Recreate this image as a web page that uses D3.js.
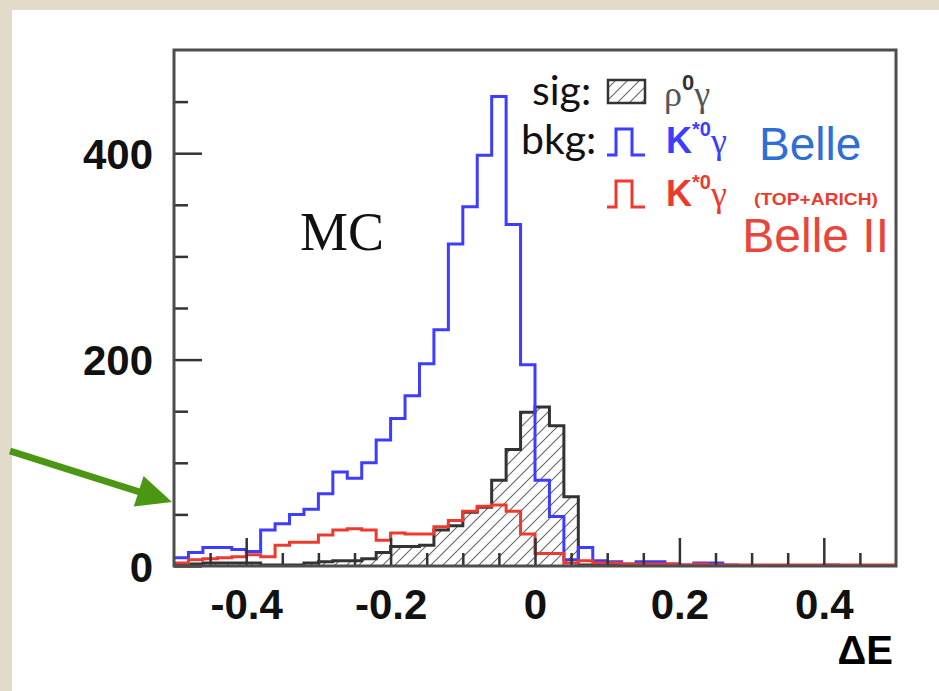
<!DOCTYPE html>
<html lang="en">
<head>
<meta charset="UTF-8">
<title>Delta E - MC</title>
<script src="https://d3js.org/d3.v7.min.js"></script>
<style>
    body {
        margin: 0;
        background: #fff;
    }
    svg {
        display: block;
    }
    .tick text {
        font-family: "Liberation Sans", Arial, sans-serif;
        font-weight: bold;
        font-size: 42px;
        fill: #111;
    }
    .tick line {
        stroke: #333;
        stroke-width: 2.5px;
    }
</style>
</head>
<body>
<svg id="chart" width="939" height="691"></svg>
<script>
    // 50 bins of 0.02 from -0.5 to 0.5
    const binEdges = d3.range(51).map(i => +(-0.5 + i * 0.02).toFixed(2));

    // signal: rho0 gamma (hatched)
    const sigRhoGamma = [1, 2, 3, 3, 3, 3, 1, 1, 1, 3,
                         4, 5, 5, 7, 13, 19, 19, 20, 35, 39,
                         52, 57, 83, 113, 149, 154, 136, 67, 1, 1,
                         1, 1, 1, 0, 0, 0, 0, 0, 0, 0,
                         0, 0, 0, 0, 0, 0, 0, 0, 0, 0];

    // background K*0 gamma, Belle
    const bkgBelle = [8, 13, 18, 18, 16, 14, 35, 41, 50, 55,
                      70, 91, 85, 100, 122, 143, 165, 196, 229, 312,
                      348, 398, 455, 331, 195, 83, 48, 6, 18, 5,
                      4, 2, 4, 4, 2, 1, 3, 3, 1, 0,
                      0, 0, 0, 0, 0, 1, 0, 0, 0, 0];

    // background K*0 gamma, Belle II (TOP+ARICH)
    const bkgBelle2 = [3, 6, 7, 8, 9, 11, 9, 20, 23, 23,
                       30, 35, 36, 35, 25, 32, 31, 31, 38, 44,
                       53, 58, 59, 53, 31, 12, 12, 3, 5, 3,
                       3, 2, 2, 2, 2, 1, 2, 1, 1, 1,
                       1, 1, 1, 1, 1, 1, 1, 1, 1, 1];

    const yMajorTicks = [0, 200, 400];
    const yMinorTicks = [50, 100, 150, 250, 300, 350, 450];
    const xMajorTicks = [-0.4, -0.2, 0, 0.2, 0.4];
    const xMinorTicks = [-0.45, -0.35, -0.3, -0.25, -0.15, -0.1, -0.05,
                         0.05, 0.1, 0.15, 0.25, 0.3, 0.35, 0.45];
    const xTickLabels = ["-0.4", "-0.2", "0", "0.2", "0.4"];

    const svg = d3.select("#chart");

    // slide background: beige border top and left
    svg.append("rect").attr("width", 939).attr("height", 691).attr("fill", "#e2dbca");
    svg.append("rect").attr("x", 12).attr("y", 10).attr("width", 927).attr("height", 681).attr("fill", "#fff");

    const plot = { left: 174, right: 896, top: 50, bottom: 566 };

    const x = d3.scaleLinear().domain([-0.5, 0.5]).range([plot.left, plot.right]);
    const y = d3.scaleLinear().domain([0, 500]).range([plot.bottom, plot.top]);

    // hatch pattern for the signal
    const defs = svg.append("defs");
    const pat = defs.append("pattern")
        .attr("id", "hatch")
        .attr("patternUnits", "userSpaceOnUse")
        .attr("width", 12)
        .attr("height", 12);
    pat.append("path")
        .attr("d", "M0,12 L12,0 M-3,3 L3,-3 M9,15 L15,9")
        .attr("stroke", "#666")
        .attr("stroke-width", 1.1);

    defs.append("clipPath").attr("id", "clip")
        .append("rect")
        .attr("x", plot.left).attr("y", plot.top)
        .attr("width", plot.right - plot.left).attr("height", plot.bottom - plot.top);

    function binPoints(values) {
        const pts = values.map((v, i) => [binEdges[i], v]);
        pts.push([binEdges[values.length], values[values.length - 1]]);
        return pts;
    }

    const stepLine = d3.line()
        .x(d => x(d[0]))
        .y(d => y(d[1]))
        .curve(d3.curveStepAfter);

    const stepArea = d3.area()
        .x(d => x(d[0]))
        .y0(y(0))
        .y1(d => y(d[1]))
        .curve(d3.curveStepAfter);

    const hist = svg.append("g").attr("clip-path", "url(#clip)");

    hist.append("path")
        .attr("d", stepArea(binPoints(sigRhoGamma)))
        .attr("fill", "url(#hatch)")
        .attr("stroke", "none");
    hist.append("path")
        .attr("d", stepLine(binPoints(sigRhoGamma)))
        .attr("fill", "none")
        .attr("stroke", "#333")
        .attr("stroke-width", 3);

    hist.append("path")
        .attr("d", stepLine(binPoints(bkgBelle)))
        .attr("fill", "none")
        .attr("stroke", "#3d3dff")
        .attr("stroke-width", 3);

    hist.append("path")
        .attr("d", stepLine(binPoints(bkgBelle2)))
        .attr("fill", "none")
        .attr("stroke", "#ec3b2e")
        .attr("stroke-width", 3);

    // axes (ticks point inside the frame)
    const yAxis = svg.append("g")
        .attr("transform", `translate(${plot.left},0)`)
        .call(d3.axisLeft(y).tickValues(yMajorTicks).tickSize(-28).tickPadding(21));
    yAxis.selectAll("text").attr("dy", "0.36em");
    svg.append("g")
        .attr("transform", `translate(${plot.left},0)`)
        .call(d3.axisLeft(y).tickValues(yMinorTicks).tickSize(-14).tickFormat(""));

    svg.append("g")
        .attr("transform", `translate(0,${plot.bottom})`)
        .call(d3.axisBottom(x).tickValues(xMajorTicks).tickSize(-28).tickPadding(23)
            .tickFormat((d, i) => xTickLabels[i]));
    svg.append("g")
        .attr("transform", `translate(0,${plot.bottom})`)
        .call(d3.axisBottom(x).tickValues(xMinorTicks).tickSize(-13).tickFormat(""));

    svg.selectAll(".domain").remove();

    // frame
    svg.append("rect")
        .attr("x", plot.left).attr("y", plot.top)
        .attr("width", plot.right - plot.left).attr("height", plot.bottom - plot.top)
        .attr("fill", "none")
        .attr("stroke", "#4d4d4d")
        .attr("stroke-width", 3);

    // x title
    svg.append("text")
        .attr("x", 893).attr("y", 664)
        .attr("text-anchor", "end")
        .style("font-family", "'Liberation Sans', Arial, sans-serif")
        .style("font-weight", "bold")
        .style("font-size", "40px")
        .text("ΔE");

    // MC label
    svg.append("text")
        .attr("x", 300).attr("y", 250)
        .style("font-family", "'Liberation Serif', 'Times New Roman', serif")
        .style("font-size", "54px")
        .attr("fill", "#111")
        .text("MC");

    // legend
    const legFont = "Lato, 'Open Sans', sans-serif";
    svg.append("text").attr("x", 532).attr("y", 105)
        .style("font-family", legFont).style("font-size", "41px").attr("fill", "#111")
        .text("sig:");
    svg.append("rect")
        .attr("x", 608).attr("y", 80).attr("width", 37).attr("height", 23)
        .attr("fill", "url(#hatch)")
        .attr("stroke", "#333").attr("stroke-width", 2.5);
    const rho = svg.append("text").attr("x", 664).attr("y", 106)
        .style("font-family", "'Liberation Serif', serif").style("font-size", "36px").attr("fill", "#555");
    rho.append("tspan").text("ρ");
    rho.append("tspan").attr("dy", -16).style("font-size", "22px")
        .style("font-family", "'Liberation Sans', sans-serif").style("font-weight", "bold").attr("fill", "#333").text("0");
    rho.append("tspan").attr("dy", 16).text("γ");

    svg.append("text").attr("x", 521).attr("y", 154)
        .style("font-family", legFont).style("font-size", "41px").attr("fill", "#111")
        .text("bkg:");

    const pulse = (y0) => `M607,${y0 + 26} H616 V${y0} H632 V${y0 + 26} H645`;
    svg.append("path").attr("d", pulse(129)).attr("fill", "none")
        .attr("stroke", "#3d3dff").attr("stroke-width", 3);
    svg.append("path").attr("d", pulse(181)).attr("fill", "none")
        .attr("stroke", "#ec3b2e").attr("stroke-width", 3);

    function kLabel(yb, color) {
        const t = svg.append("text").attr("x", 666).attr("y", yb).attr("fill", color);
        t.append("tspan").style("font-family", "'Liberation Sans', sans-serif")
            .style("font-weight", "bold").style("font-size", "36px").text("K");
        t.append("tspan").attr("dy", -17).style("font-family", "'Liberation Sans', sans-serif")
            .style("font-weight", "bold").style("font-size", "20px").text("*0");
        t.append("tspan").attr("dy", 17).style("font-family", "'Liberation Serif', serif")
            .style("font-size", "36px").text("γ");
    }
    kLabel(153, "#3d3dff");
    kLabel(206, "#ec3b2e");

    svg.append("text").attr("x", 759).attr("y", 160)
        .style("font-family", "'Liberation Sans', Arial, sans-serif").style("font-size", "46px")
        .attr("fill", "#2f6fd3").text("Belle");
    svg.append("text").attr("x", 754).attr("y", 205)
        .attr("textLength", 124).attr("lengthAdjust", "spacingAndGlyphs")
        .style("font-family", "'Liberation Sans', Arial, sans-serif").style("font-weight", "bold")
        .style("font-size", "17px").attr("fill", "#ec3b2e").text("(TOP+ARICH)");
    svg.append("text").attr("x", 889).attr("y", 252).attr("text-anchor", "end")
        .style("font-family", "'Liberation Sans', Arial, sans-serif").style("font-size", "48px")
        .attr("fill", "#e8463a").text("Belle II");

    // green arrow pointing at the axis
    svg.append("path")
        .attr("d", "M10,451 L146,494")
        .attr("stroke", "#4b9612").attr("stroke-width", 7).attr("fill", "none");
    svg.append("path")
        .attr("d", "M172,502 L143.6,476 L133.8,506.4 Z")
        .attr("fill", "#4b9612");
</script>
</body>
</html>
